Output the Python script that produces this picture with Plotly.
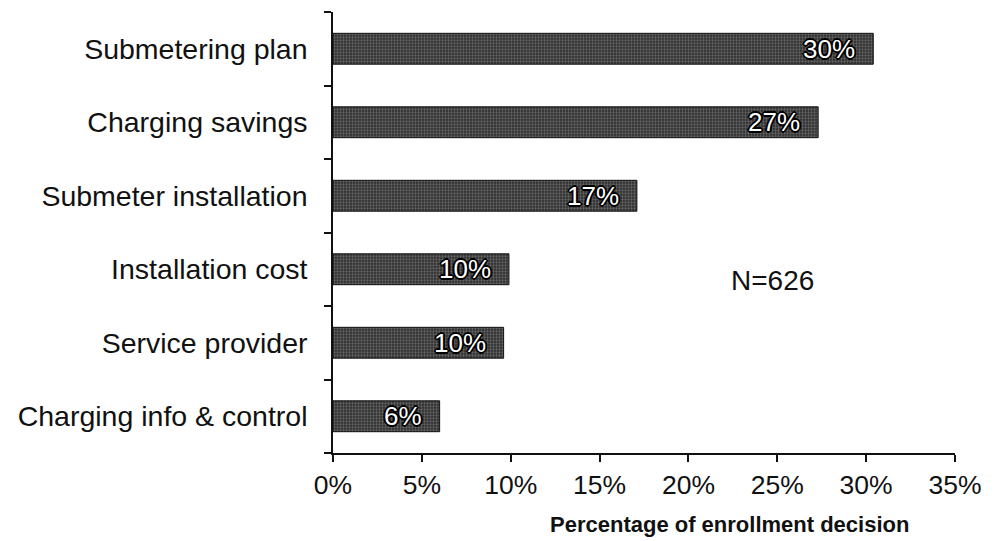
import plotly.graph_objects as go

# Share of enrollment decision attributed to each factor (%)
factors = [
    "Submetering plan",
    "Charging savings",
    "Submeter installation",
    "Installation cost",
    "Service provider",
    "Charging info & control",
]
shares = [30.4, 27.3, 17.1, 9.9, 9.6, 6.0]
x_ticks = [0, 5, 10, 15, 20, 25, 30, 35]
x_tick_labels = ["0%", "5%", "10%", "15%", "20%", "25%", "30%", "35%"]
x_title = "Percentage of enrollment decision"
sample_note = "N=626"

FONT = "Liberation Sans, Arial, sans-serif"
OUTLINE = ("-1px -1px 0 #000, 1px -1px 0 #000, -1px 1px 0 #000, 1px 1px 0 #000, "
           "0 1px 0 #000, 0 -1px 0 #000, 1px 0 0 #000, -1px 0 0 #000, "
           "0 2px 0 #000, 2px 0 0 #000, -2px 0 0 #000, 0 -2px 0 #000")

fig = go.Figure()
fig.add_trace(go.Bar(
    x=shares,
    y=factors,
    orientation="h",
    marker=dict(
        color="#2e2e2e",
        line=dict(color="#111", width=1),
        pattern=dict(shape=".", fgcolor="#9c9c9c", bgcolor="#2e2e2e",
                     size=3, solidity=0.45),
    ),
    hoverinfo="skip",
    showlegend=False,
))

# Value labels inside the bar ends
for name, v in zip(factors, shares):
    fig.add_annotation(
        x=v, y=name, xref="x", yref="y",
        text=f"{round(v)}%",
        showarrow=False, xanchor="right", yanchor="middle",
        xshift=-16,
        font=dict(family=FONT, size=26, color="white", shadow=OUTLINE),
    )

fig.add_annotation(
    x=22.3, y=0.392, xref="x", yref="paper",
    text=sample_note, showarrow=False, xanchor="left", yanchor="middle",
    font=dict(family=FONT, size=28, color="#111"),
)

# Axis title, set to the right of the plot centre
fig.add_annotation(
    x=0.638, y=-0.163, xref="paper", yref="paper",
    text=f"<b>{x_title}</b>", showarrow=False,
    xanchor="center", yanchor="middle",
    font=dict(family=FONT, size=22, color="#111"),
)

fig.update_layout(
    width=994, height=541,
    margin=dict(l=333, r=31, t=12, b=88),
    paper_bgcolor="white", plot_bgcolor="white",
    bargap=0.58,
    font=dict(family=FONT, color="#111"),
    xaxis=dict(
        range=[0, 35],
        tickvals=x_ticks, ticktext=x_tick_labels,
        ticks="outside", ticklen=7, tickwidth=1.5, tickcolor="#111",
        showline=True, linecolor="#111", linewidth=1.5,
        showgrid=False, zeroline=False,
        tickfont=dict(family=FONT, size=26.5, color="#111"),
    ),
    yaxis=dict(
        categoryorder="array", categoryarray=factors[::-1],
        tickson="boundaries",
        ticks="outside", ticklen=7, tickwidth=1.5, tickcolor="#111",
        showline=True, linecolor="#111", linewidth=1.5,
        showgrid=False, zeroline=False,
        tickfont=dict(family=FONT, size=28.5, color="#111"),
        ticklabelstandoff=18,
    ),
)

fig.write_html("out.html")
